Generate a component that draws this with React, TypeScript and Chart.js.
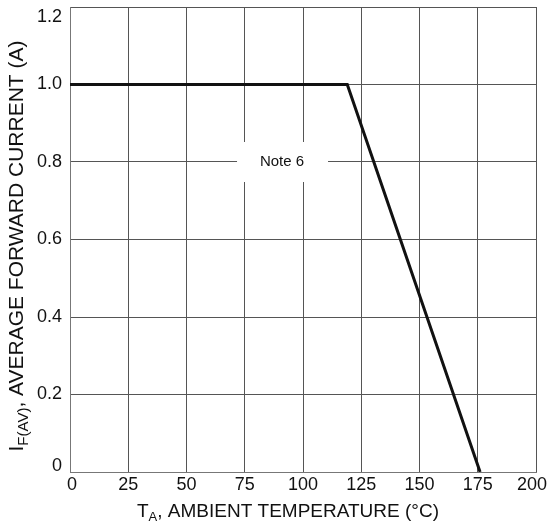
import React, { useEffect, useRef } from "react";
import { Chart, registerables } from "chart.js";

Chart.register(...registerables);

const tempC = [0, 119, 176];
const currentA = [1.0, 1.0, 0];
const xTicks = [0, 25, 50, 75, 100, 125, 150, 175, 200];
const yTicks = [0, 0.2, 0.4, 0.6, 0.8, 1.0, 1.2];
const noteText = "Note 6";
const noteAt = { x: 91, y: 0.8 };

const FONT = "Arial, 'Liberation Sans', sans-serif";

type Seg = { t: string; size: number; dy: number };

function drawSegs(ctx: CanvasRenderingContext2D, segs: Seg[], x: number, y: number) {
  let total = 0;
  for (const s of segs) {
    ctx.font = `${s.size}px ${FONT}`;
    total += ctx.measureText(s.t).width;
  }
  let cx = x - total / 2;
  for (const s of segs) {
    ctx.font = `${s.size}px ${FONT}`;
    ctx.fillText(s.t, cx, y + s.dy);
    cx += ctx.measureText(s.t).width;
  }
}

const yLabel = (v: number) => (v === 0 ? "0" : v.toFixed(1));

const titlesPlugin = {
  id: "titles",
  beforeDatasetsDraw(chart: any) {
    const { ctx, scales } = chart;
    const px = scales.x.getPixelForValue(noteAt.x);
    const py = scales.y.getPixelForValue(noteAt.y);
    ctx.save();
    ctx.fillStyle = "#ffffff";
    ctx.fillRect(px - 45, py - 20, 91, 40);
    ctx.fillStyle = "#111";
    ctx.font = `15px ${FONT}`;
    ctx.textAlign = "center";
    ctx.textBaseline = "middle";
    ctx.fillText(noteText, px, py);
    ctx.restore();
  },
  afterDraw(chart: any) {
    const { ctx, chartArea, scales, width } = chart;
    ctx.save();
    ctx.fillStyle = "#111";
    // tick labels
    ctx.font = `18px ${FONT}`;
    ctx.textBaseline = "middle";
    ctx.textAlign = "right";
    for (const v of yTicks) {
      let y = scales.y.getPixelForValue(v);
      if (y < chartArea.top + 8) y = chartArea.top + 10;
      if (y > chartArea.bottom - 4) y = chartArea.bottom - 6;
      ctx.fillText(yLabel(v), chartArea.left - 8, y);
    }
    for (const v of xTicks) {
      const x = scales.x.getPixelForValue(v);
      const label = String(v);
      const w = ctx.measureText(label).width;
      ctx.textAlign = "center";
      let cx = x;
      if (cx - w / 2 < chartArea.left - 4) cx = chartArea.left + 2;
      if (cx + w / 2 > width - 1) cx = width - 1 - w / 2;
      ctx.fillText(label, cx, chartArea.bottom + 13);
    }
    ctx.textAlign = "left";
    ctx.textBaseline = "alphabetic";
    // x title
    drawSegs(
      ctx,
      [
        { t: "T", size: 19, dy: 0 },
        { t: "A", size: 13, dy: 4 },
        { t: ", AMBIENT TEMPERATURE (°C)", size: 19, dy: 0 },
      ],
      288,
      517
    );
    // y title
    ctx.translate(23, 246);
    ctx.rotate(-Math.PI / 2);
    drawSegs(
      ctx,
      [
        { t: "I", size: 21, dy: 0 },
        { t: "F(AV)", size: 15, dy: 5 },
        { t: ", AVERAGE FORWARD CURRENT (A)", size: 21, dy: 0 },
      ],
      0,
      0
    );
    ctx.restore();
  },
};

export default function App() {
  const ref = useRef<HTMLCanvasElement>(null);
  useEffect(() => {
    if (!ref.current) return;
    const grid = "#555";
    const chart = new Chart(ref.current, {
      type: "scatter",
      data: {
        datasets: [
          {
            data: tempC.map((x, i) => ({ x, y: currentA[i] })),
            showLine: true,
            borderColor: "#111",
            borderWidth: 3,
            pointRadius: 0,
            fill: false,
          },
        ],
      },
      options: {
        responsive: false,
        animation: false,
        plugins: { legend: { display: false }, tooltip: { enabled: false } },
        layout: { padding: { left: 0, right: 12, top: 7, bottom: 0 } },
        scales: {
          x: {
            type: "linear",
            min: 0,
            max: 200,
            afterBuildTicks: (s: any) => {
              s.ticks = xTicks.map((v) => ({ value: v }));
            },
            afterFit: (s: any) => {
              s.height = 51;
            },
            ticks: { display: false },
            grid: { color: grid, lineWidth: 1, drawTicks: false },
            border: { color: "#777", width: 1 },
          },
          y: {
            min: 0,
            max: 1.2,
            afterBuildTicks: (s: any) => {
              s.ticks = yTicks.map((v) => ({ value: v }));
            },
            afterFit: (s: any) => {
              s.width = 70;
            },
            ticks: { display: false },
            grid: { color: grid, lineWidth: 1, drawTicks: false },
            border: { color: "#777", width: 1 },
          },
        },
      },
      plugins: [titlesPlugin],
    } as any);
    return () => chart.destroy();
  }, []);
  return (
    <div style={{ position: "absolute", left: 0, top: 0, width: 548, height: 523, background: "#fff" }}>
      <canvas ref={ref} width={548} height={523} style={{ width: 548, height: 523 }} />
    </div>
  );
}
